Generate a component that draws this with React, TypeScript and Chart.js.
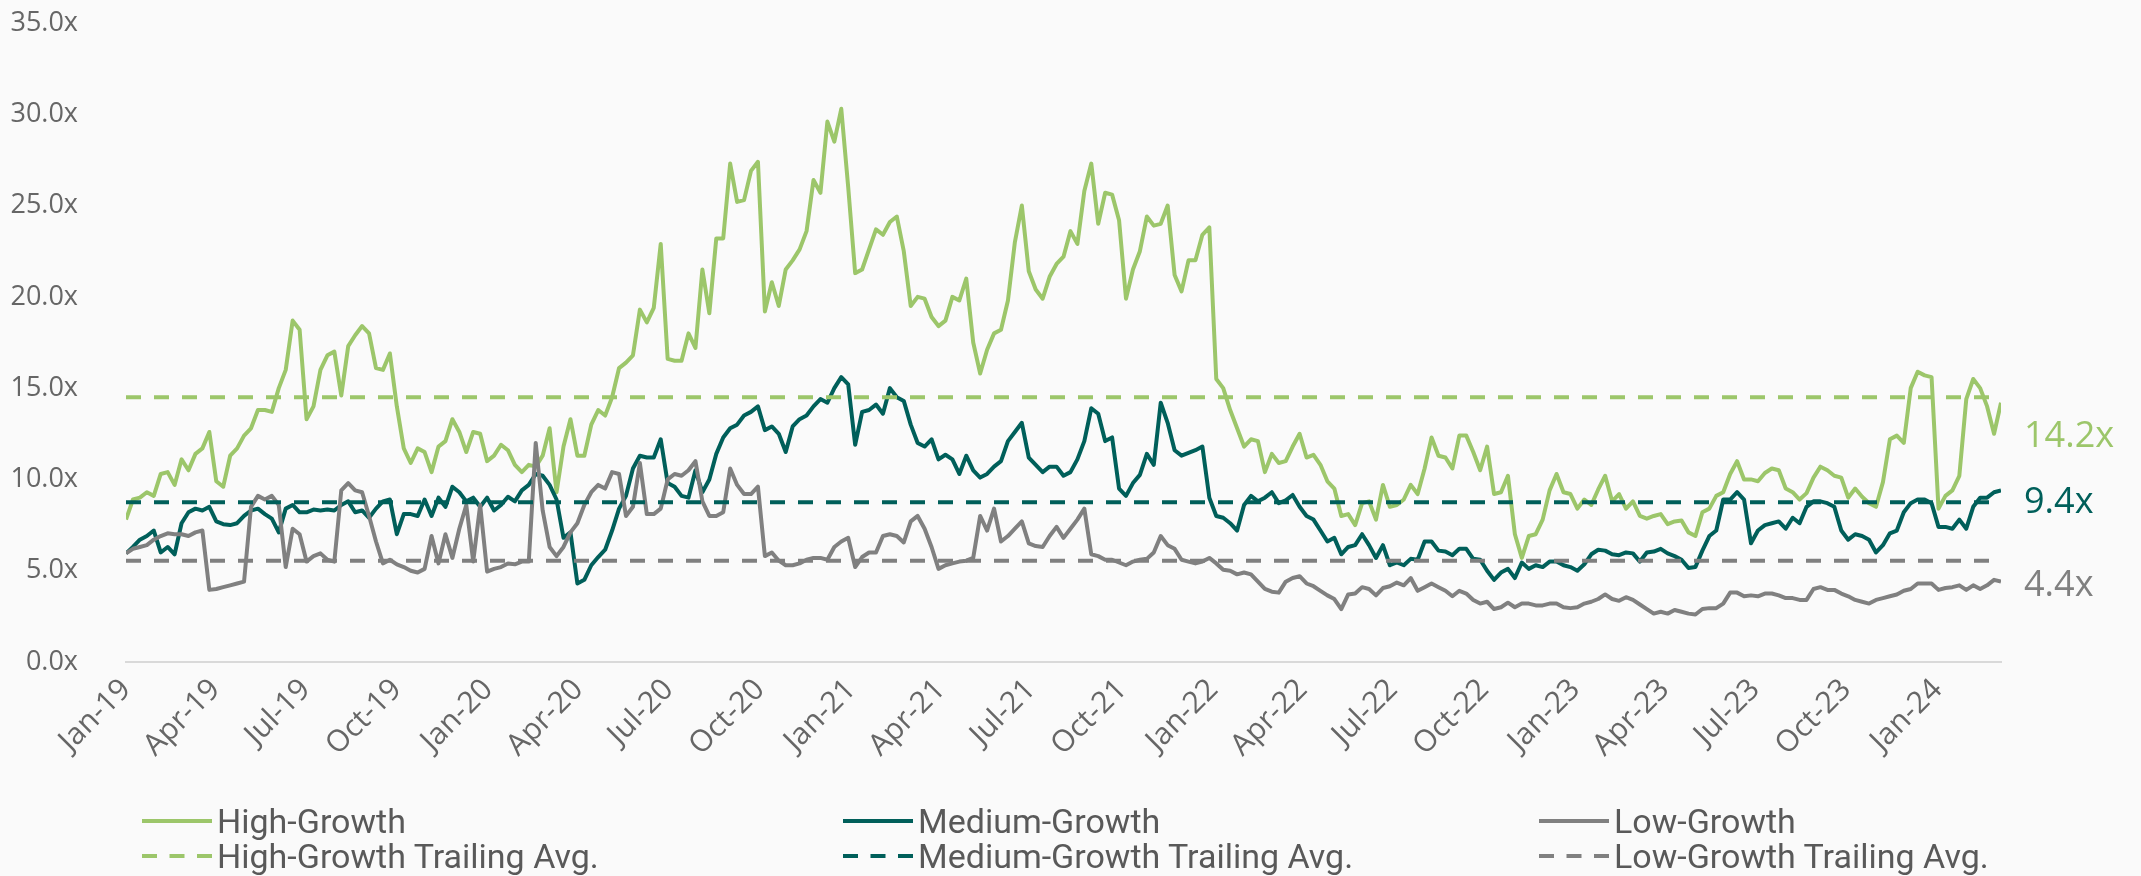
import React, { useEffect, useRef } from 'react';
import { Chart, registerables } from 'chart.js';

Chart.register(...registerables);

// ---------- DATA ----------
// Weekly samples starting 1 Jan 2019 (one value every 7 days)
const START_UTC = Date.UTC(2019, 0, 1);
const STEP_DAYS = 7;

const tickLabels = [
  'Jan-19', 'Apr-19', 'Jul-19', 'Oct-19',
  'Jan-20', 'Apr-20', 'Jul-20', 'Oct-20',
  'Jan-21', 'Apr-21', 'Jul-21', 'Oct-21',
  'Jan-22', 'Apr-22', 'Jul-22', 'Oct-22',
  'Jan-23', 'Apr-23', 'Jul-23', 'Oct-23',
  'Jan-24',
];

const highGrowth = [
  7.8, 8.9, 9.0, 9.3, 9.1, 10.3, 10.4, 9.7, 11.1, 10.5, 11.4, 11.7, 12.6, 9.9, 9.6, 11.3, 11.7, 12.4, 12.8, 13.8,
  13.8, 13.7, 15.0, 16.0, 18.7, 18.2, 13.3, 14.0, 16.0, 16.8, 17.0, 14.6, 17.3, 17.9, 18.4, 18.0, 16.1, 16.0, 16.9,
  14.0, 11.7, 10.9, 11.7, 11.5, 10.4, 11.8, 12.1, 13.3, 12.6, 11.5, 12.6, 12.5, 11.0, 11.3, 11.9, 11.6, 10.8, 10.4,
  10.8, 10.7, 11.3, 12.8, 9.3, 11.8, 13.3, 11.3, 11.3, 13.0, 13.8, 13.5, 14.5, 16.1, 16.4, 16.8, 19.3, 18.6,
  19.4, 22.9, 16.6, 16.5, 16.5, 18.0, 17.2, 21.5, 19.1, 23.2, 23.2, 27.3, 25.2, 25.3, 26.9, 27.4, 19.2, 20.8, 19.5,
  21.5, 22.0, 22.6, 23.6, 26.4, 25.7, 29.6, 28.5, 30.3, 26.0, 21.3, 21.5, 22.6, 23.7, 23.4, 24.1, 24.4, 22.5, 19.5, 20.0,
  19.9, 18.9, 18.4, 18.7, 20.0, 19.8, 21.0, 17.5, 15.8, 17.1, 18.0, 18.2, 19.8, 23.0, 25.0, 21.4, 20.4, 19.9, 21.1,
  21.8, 22.2, 23.6, 22.9, 25.8, 27.3, 24.0, 25.7, 25.6, 24.2, 19.9, 21.5, 22.5, 24.4, 23.9, 24.0, 25.0, 21.2, 20.3,
  22.0, 22.0, 23.4, 23.8, 15.5, 15.0, 13.8, 12.8, 11.8, 12.2, 12.1, 10.4, 11.4, 10.9, 11.0, 11.8, 12.5, 11.2, 11.35,
  10.8, 9.9, 9.5, 8.0, 8.1, 7.5, 8.7, 8.8, 7.8, 9.7, 8.5, 8.6, 8.9, 9.7, 9.2, 10.6, 12.3, 11.3, 11.2,
  10.6, 12.4, 12.4, 11.5, 10.5, 11.8, 9.2, 9.3, 10.2, 7.0, 5.7, 6.9, 7.0, 7.8, 9.4, 10.3, 9.3, 9.2, 8.4,
  8.9, 8.6, 9.45, 10.2, 8.8, 9.2, 8.4, 8.8, 8.0, 7.85, 8.0, 8.1, 7.55, 7.7, 7.75, 7.1, 6.9, 8.2, 8.4,
  9.1, 9.3, 10.3, 11.0, 10.0, 10.0, 9.9, 10.35, 10.6, 10.5, 9.5, 9.3, 8.9, 9.25, 10.1, 10.7, 10.5, 10.2, 10.1,
  9.0, 9.5, 9.05, 8.7, 8.5, 9.85, 12.2, 12.4, 12.0, 15.0, 15.9, 15.7, 15.6, 8.4, 9.1, 9.4, 10.2, 14.4, 15.5,
  15.0, 14.0, 12.5, 14.2,
];

const mediumGrowth = [
  5.95, 6.3, 6.7, 6.9, 7.2, 6.0, 6.3, 5.9, 7.6, 8.2, 8.4, 8.3, 8.5, 7.7, 7.55, 7.5, 7.6, 8.0, 8.3, 8.4,
  8.1, 7.85, 7.1, 8.4, 8.6, 8.2, 8.2, 8.35, 8.3, 8.35, 8.3, 8.6, 8.8, 8.2, 8.3, 7.9, 8.4, 8.8, 8.9,
  7.0, 8.1, 8.1, 8.0, 8.9, 8.0, 9.0, 8.5, 9.6, 9.3, 8.8, 9.0, 8.5, 9.0, 8.3, 8.6, 9.05, 8.8, 9.4,
  9.7, 10.3, 10.2, 9.7, 8.9, 6.8, 7.1, 4.3, 4.5, 5.3, 5.75, 6.15, 7.2, 8.4, 9.1, 10.6, 11.3, 11.2,
  11.2, 12.2, 9.8, 9.6, 9.1, 9.0, 10.5, 9.3, 10.0, 11.4, 12.3, 12.8, 13.0, 13.5, 13.7, 14.0, 12.7, 12.9, 12.5,
  11.5, 12.9, 13.3, 13.5, 14.0, 14.4, 14.2, 15.0, 15.6, 15.2, 11.9, 13.7, 13.8, 14.1, 13.6, 15.0, 14.5, 14.3, 13.0, 12.0,
  11.8, 12.2, 11.1, 11.35, 11.1, 10.3, 11.3, 10.5, 10.1, 10.3, 10.7, 11.0, 12.1, 12.6, 13.1, 11.2, 10.8, 10.4, 10.7,
  10.7, 10.2, 10.4, 11.1, 12.1, 13.9, 13.6, 12.1, 12.3, 9.5, 9.1, 9.8, 10.25, 11.4, 10.8, 14.2, 13.1, 11.6, 11.3,
  11.45, 11.6, 11.8, 9.0, 8.0, 7.9, 7.6, 7.2, 8.6, 9.1, 8.8, 9.0, 9.3, 8.7, 8.85, 9.15, 8.5, 8.0, 7.8,
  7.2, 6.6, 6.8, 5.9, 6.3, 6.4, 7.0, 6.4, 5.7, 6.4, 5.3, 5.45, 5.3, 5.65, 5.6, 6.6, 6.6, 6.1, 6.05,
  5.85, 6.2, 6.2, 5.65, 5.6, 5.0, 4.5, 4.9, 5.1, 4.6, 5.45, 5.1, 5.3, 5.2, 5.5, 5.5, 5.3, 5.2, 5.0,
  5.35, 5.9, 6.15, 6.1, 5.9, 5.85, 6.0, 5.95, 5.5, 6.0, 6.05, 6.2, 5.95, 5.8, 5.6, 5.15, 5.2, 6.1, 6.9,
  7.2, 8.9, 8.9, 9.3, 8.9, 6.5, 7.2, 7.5, 7.6, 7.7, 7.3, 7.9, 7.6, 8.5, 8.8, 8.8, 8.7, 8.5, 7.2,
  6.7, 7.0, 6.9, 6.7, 6.0, 6.4, 7.05, 7.2, 8.2, 8.7, 8.9, 8.9, 8.7, 7.4, 7.4, 7.3, 7.8, 7.3, 8.5,
  9.0, 9.0, 9.3, 9.4,
];

const lowGrowth = [
  5.95, 6.2, 6.3, 6.4, 6.7, 6.9, 7.05, 7.0, 7.0, 6.9, 7.1, 7.2, 3.95, 4.0, 4.1, 4.2, 4.3, 4.4, 8.5, 9.1,
  8.9, 9.1, 8.6, 5.2, 7.3, 7.0, 5.5, 5.8, 5.95, 5.6, 5.5, 9.4, 9.8, 9.4, 9.3, 8.0, 6.6, 5.4, 5.6,
  5.35, 5.2, 5.0, 4.9, 5.1, 6.9, 5.4, 7.0, 5.7, 7.3, 8.6, 5.5, 8.6, 4.95, 5.1, 5.2, 5.4, 5.35, 5.5,
  5.5, 12.0, 8.3, 6.3, 5.8, 6.3, 7.1, 7.6, 8.6, 9.3, 9.7, 9.5, 10.4, 10.3, 8.0, 8.5, 10.9, 8.1,
  8.1, 8.4, 10.0, 10.3, 10.2, 10.5, 11.0, 8.8, 8.0, 8.0, 8.2, 10.6, 9.7, 9.2, 9.2, 9.6, 5.8, 6.0, 5.55,
  5.3, 5.3, 5.4, 5.6, 5.7, 5.7, 5.6, 6.3, 6.6, 6.8, 5.2, 5.75, 6.0, 6.0, 6.9, 7.0, 6.9, 6.55, 7.7, 8.0,
  7.3, 6.3, 5.1, 5.3, 5.4, 5.5, 5.55, 5.7, 8.0, 7.2, 8.4, 6.6, 6.9, 7.3, 7.7, 6.5, 6.35, 6.3, 6.9,
  7.4, 6.8, 7.3, 7.8, 8.4, 5.9, 5.8, 5.6, 5.6, 5.45, 5.3, 5.5, 5.6, 5.65, 6.0, 6.9, 6.4, 6.2, 5.6,
  5.5, 5.4, 5.5, 5.7, 5.4, 5.05, 5.0, 4.8, 4.9, 4.8, 4.4, 4.0, 3.85, 3.8, 4.4, 4.6, 4.7, 4.3, 4.15,
  3.9, 3.65, 3.45, 2.9, 3.7, 3.75, 4.1, 4.0, 3.65, 4.05, 4.15, 4.35, 4.2, 4.6, 3.9, 4.1, 4.3, 4.1, 3.9,
  3.6, 3.9, 3.75, 3.4, 3.2, 3.3, 2.9, 3.0, 3.25, 3.0, 3.2, 3.2, 3.1, 3.1, 3.2, 3.2, 3.0, 2.95, 3.0,
  3.2, 3.3, 3.45, 3.7, 3.45, 3.35, 3.55, 3.4, 3.15, 2.9, 2.65, 2.75, 2.65, 2.85, 2.75, 2.65, 2.6, 2.9, 2.95,
  2.95, 3.2, 3.8, 3.8, 3.6, 3.65, 3.6, 3.75, 3.75, 3.65, 3.5, 3.5, 3.4, 3.4, 4.0, 4.1, 3.95, 3.95, 3.75,
  3.6, 3.4, 3.3, 3.2, 3.4, 3.5, 3.6, 3.7, 3.9, 4.0, 4.3, 4.3, 4.3, 3.95, 4.05, 4.1, 4.2, 3.95, 4.2,
  4.0, 4.2, 4.5, 4.4,
];

const highTrailingAvg = 14.5;
const mediumTrailingAvg = 8.75;
const lowTrailingAvg = 5.55;

const endLabels = ['14.2x', '9.4x', '4.4x'];
const endLabelAnchors = [12.35, 8.75, 4.2];

const COLORS = {
  high: '#9CC66A',
  medium: '#005F5A',
  low: '#808080',
};

const seriesNames = [
  'High-Growth', 'Medium-Growth', 'Low-Growth',
  'High-Growth Trailing Avg.', 'Medium-Growth Trailing Avg.', 'Low-Growth Trailing Avg.',
];

// ---------- HELPERS ----------
const MONTHS = ['Jan', 'Feb', 'Mar', 'Apr', 'May', 'Jun', 'Jul', 'Aug', 'Sep', 'Oct', 'Nov', 'Dec'];
const DAY_MS = 86400000;
function labelToDay(label: string): number {
  const [mon, yy] = label.split('-');
  const m = MONTHS.indexOf(mon);
  return Math.round((Date.UTC(2000 + Number(yy), m, 1) - START_UTC) / DAY_MS);
}
const tickDays = tickLabels.map(labelToDay);
const toPoints = (arr: number[]) => arr.map((v, i) => ({ x: i * STEP_DAYS, y: v }));
const LAST_DAY = (highGrowth.length - 1) * STEP_DAYS;
const flat = (v: number) => [{ x: 0, y: v }, { x: LAST_DAY, y: v }];

const W = 2141;
const H = 876;
const PLOT_TOP = 23;
const PLOT_BOTTOM = 662;
const PLOT_LEFT = 126;
const PLOT_RIGHT = 2001;
const TICK_FONT = '"Open Sans", "DejaVu Sans", sans-serif';

const endLabelPlugin = {
  id: 'endLabels',
  afterDatasetsDraw(chart: any) {
    const { ctx, chartArea, scales } = chart;
    const colors = [COLORS.high, COLORS.medium, COLORS.low];
    ctx.save();
    ctx.font = `36px ${TICK_FONT}`;
    ctx.textAlign = 'left';
    ctx.textBaseline = 'middle';
    endLabels.forEach((t, i) => {
      ctx.fillStyle = colors[i];
      ctx.fillText(t, chartArea.right + 23, scales.y.getPixelForValue(endLabelAnchors[i]));
    });
    ctx.restore();
  },
};

function LegendItem({ color, dashed, label }: { color: string; dashed: boolean; label: string }) {
  return (
    <div style={{ display: 'flex', alignItems: 'center', height: 30, lineHeight: '30px' }}>
      <svg width={72} height={8} style={{ flex: '0 0 auto' }}>
        <line
          x1={1} y1={4} x2={71} y2={4}
          stroke={color}
          strokeWidth={4}
          strokeDasharray={dashed ? '15 12.5' : undefined}
        />
      </svg>
      <span style={{ marginLeft: 4, whiteSpace: 'nowrap' }}>{label}</span>
    </div>
  );
}

export default function App() {
  const canvasRef = useRef<HTMLCanvasElement | null>(null);

  useEffect(() => {
    const canvas = canvasRef.current;
    if (!canvas) return;
    const line = (label: string, data: any[], color: string, order: number, dashed = false) => ({
      label,
      data,
      borderColor: color,
      backgroundColor: color,
      borderWidth: dashed ? 4 : 4,
      borderDash: dashed ? [15, 13] : [],
      pointRadius: 0,
      pointHoverRadius: 0,
      tension: 0,
      fill: false,
      borderJoinStyle: 'round',
      order,
    });

    const chart = new Chart(canvas, {
      type: 'line',
      data: {
        datasets: [
          line(seriesNames[0], toPoints(highGrowth), COLORS.high, 6),
          line(seriesNames[1], toPoints(mediumGrowth), COLORS.medium, 5),
          line(seriesNames[2], toPoints(lowGrowth), COLORS.low, 4),
          line(seriesNames[3], flat(highTrailingAvg), COLORS.high, 3, true),
          line(seriesNames[4], flat(mediumTrailingAvg), COLORS.medium, 2, true),
          line(seriesNames[5], flat(lowTrailingAvg), COLORS.low, 1, true),
        ] as any,
      },
      options: {
        responsive: false,
        animation: false,
        devicePixelRatio: 1,
        layout: { autoPadding: false, padding: { top: PLOT_TOP, right: W - PLOT_RIGHT, bottom: 0, left: 0 } },
        plugins: {
          legend: { display: false },
          tooltip: { enabled: false },
        },
        scales: {
          x: {
            type: 'linear',
            min: 0,
            max: LAST_DAY,
            grid: { display: false, drawTicks: false },
            border: { display: true, color: '#d9d9d9', width: 2 },
            afterBuildTicks: (scale: any) => {
              scale.ticks = tickDays.map((v) => ({ value: v }));
            },
            afterFit: (scale: any) => {
              scale.height = H - PLOT_BOTTOM;
              scale.paddingLeft = 0;
              scale.paddingRight = 0;
            },
            ticks: {
              autoSkip: false,
              minRotation: 45,
              maxRotation: 45,
              padding: 10,
              color: '#666666',
              font: { family: TICK_FONT, size: 30 },
              callback: (value: any) => {
                const idx = tickDays.indexOf(Number(value));
                return idx >= 0 ? tickLabels[idx] : '';
              },
            },
          },
          y: {
            min: 0,
            max: 35,
            grid: { display: false, drawTicks: false },
            border: { display: false },
            afterFit: (scale: any) => {
              scale.width = PLOT_LEFT;
              scale.paddingTop = 0;
              scale.paddingBottom = 0;
            },
            ticks: {
              stepSize: 5,
              padding: 48,
              color: '#666666',
              font: { family: TICK_FONT, size: 27 },
              callback: (value: any) => Number(value).toFixed(1) + 'x',
            },
          },
        },
      } as any,
      plugins: [endLabelPlugin],
    });
    return () => chart.destroy();
  }, []);

  const legendItems = [
    { label: seriesNames[0], color: COLORS.high, dashed: false },
    { label: seriesNames[1], color: COLORS.medium, dashed: false },
    { label: seriesNames[2], color: COLORS.low, dashed: false },
    { label: seriesNames[3], color: COLORS.high, dashed: true },
    { label: seriesNames[4], color: COLORS.medium, dashed: true },
    { label: seriesNames[5], color: COLORS.low, dashed: true },
  ];

  return (
    <div style={{ position: 'fixed', left: 0, top: 0, width: W, height: H, background: '#fafafa', overflow: 'hidden' }}>
      <canvas ref={canvasRef} width={W} height={H} style={{ position: 'absolute', left: 0, top: 0, width: W, height: H, display: 'block' }} />
      <div
        style={{
          position: 'absolute',
          left: 141,
          top: 806,
          display: 'grid',
          gridTemplateColumns: '701px 696px auto',
          rowGap: 5,
          fontFamily: 'Roboto, "Liberation Sans", sans-serif',
          fontSize: 34,
          color: '#595959',
        }}
      >
        {legendItems.map((it) => (
          <LegendItem key={it.label} color={it.color} dashed={it.dashed} label={it.label} />
        ))}
      </div>
    </div>
  );
}
